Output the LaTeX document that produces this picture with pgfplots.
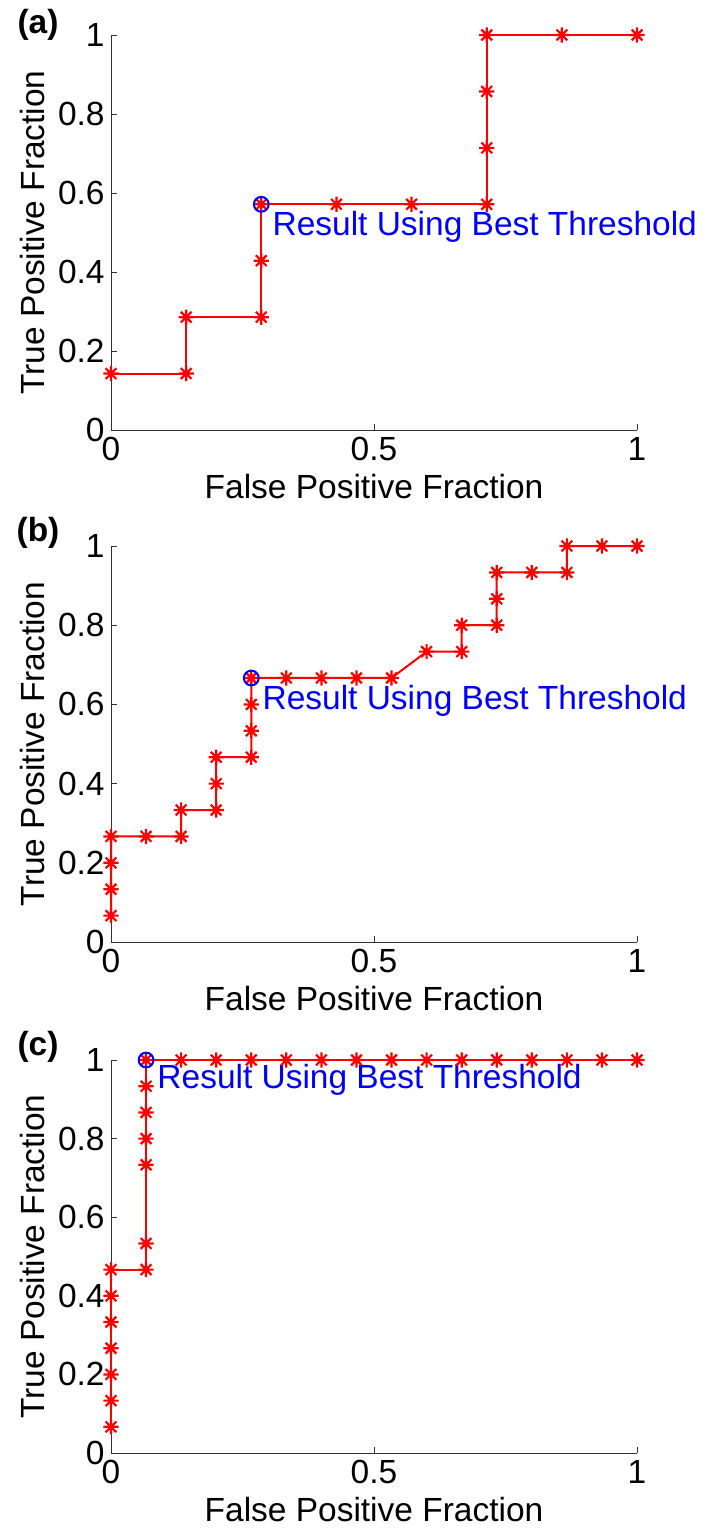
\documentclass[border=0pt]{standalone}
\usepackage{fontspec}
\setmainfont{Liberation Sans}
\setsansfont{Liberation Sans}
\usepackage{pgfplots}
\pgfplotsset{compat=1.18}

% MATLAB-style '*' marker (plus and cross together)
\pgfdeclareplotmark{mstar}{%
  \pgfpathmoveto{\pgfqpoint{0pt}{\pgfplotmarksize}}%
  \pgfpathlineto{\pgfqpoint{0pt}{-\pgfplotmarksize}}%
  \pgfpathmoveto{\pgfqpoint{\pgfplotmarksize}{0pt}}%
  \pgfpathlineto{\pgfqpoint{-\pgfplotmarksize}{0pt}}%
  \pgfpathmoveto{\pgfqpoint{.707\pgfplotmarksize}{.707\pgfplotmarksize}}%
  \pgfpathlineto{\pgfqpoint{-.707\pgfplotmarksize}{-.707\pgfplotmarksize}}%
  \pgfpathmoveto{\pgfqpoint{.707\pgfplotmarksize}{-.707\pgfplotmarksize}}%
  \pgfpathlineto{\pgfqpoint{-.707\pgfplotmarksize}{.707\pgfplotmarksize}}%
  \pgfusepathqstroke}

\newcommand{\figfont}{\fontsize{16.8}{19}\selectfont}

\pgfplotsset{
  roc/.style={
    scale only axis,
    width=263bp,
    anchor=south west,
    xmin=0, xmax=1, ymin=0, ymax=1,
    axis lines=left,
    axis line style={-, black!80},
    xtick={0,0.5,1},
    ytick={0,0.2,0.4,0.6,0.8,1},
    tick style={black!80},
    major tick length=3bp,
    tick align=inside,
    /pgf/number format/assume math mode=true,
    tick label style={font=\figfont},
    yticklabel style={inner xsep=3bp},
    label style={font=\figfont},
    xlabel={False Positive Fraction},
    ylabel={True Positive Fraction},
    clip=false,
  },
  rocline/.style={red, line width=1bp, mark=mstar, mark size=3.8bp,
    mark options={line width=1.1bp}},
  best/.style={blue, only marks, mark=o, mark size=3.7bp, line width=1bp},
}

\begin{document}
\begin{tikzpicture}
\useasboundingbox (0,0) rectangle (351.5bp,-764bp);

% (a)
\begin{axis}[roc, height=197.5bp, at={(55.5bp,-215bp)}]
  \addplot[rocline] coordinates {
    (0,0.1429) (0.1429,0.1429) (0.1429,0.2857) (0.2857,0.2857)
    (0.2857,0.4286) (0.2857,0.5714) (0.4286,0.5714) (0.5714,0.5714)
    (0.7143,0.5714) (0.7143,0.7143) (0.7143,0.8571) (0.7143,1)
    (0.8571,1) (1,1)
  };
  \addplot[best] coordinates {(0.2857,0.5714)};
  \node[anchor=west, inner sep=0, text=blue, font=\figfont, xshift=5.5bp, yshift=-11.5bp]
    at (axis cs:0.2857,0.5714) {Result Using Best Threshold};
  \node[font=\figfont\bfseries, yshift=5bp, xshift=-36.5bp] at (rel axis cs:0,1) {(a)};
\end{axis}

% (b)
\begin{axis}[roc, height=198bp, at={(55.5bp,-471bp)}]
  \addplot[rocline] coordinates {
    (0,0.0667) (0,0.1333) (0,0.2) (0,0.2667) (0.0667,0.2667) (0.1333,0.2667)
    (0.1333,0.3333) (0.2,0.3333) (0.2,0.4) (0.2,0.4667) (0.2667,0.4667)
    (0.2667,0.5333) (0.2667,0.6) (0.2667,0.6667) (0.3333,0.6667) (0.4,0.6667)
    (0.4667,0.6667) (0.5333,0.6667) (0.6,0.7333) (0.6667,0.7333) (0.6667,0.8)
    (0.7333,0.8) (0.7333,0.8667) (0.7333,0.9333) (0.8,0.9333) (0.8667,0.9333)
    (0.8667,1) (0.9333,1) (1,1)
  };
  \addplot[best] coordinates {(0.2667,0.6667)};
  \node[anchor=west, inner sep=0, text=blue, font=\figfont, xshift=5.5bp, yshift=-11.5bp]
    at (axis cs:0.2667,0.6667) {Result Using Best Threshold};
  \node[font=\figfont\bfseries, yshift=6.5bp, xshift=-36.5bp] at (rel axis cs:0,1) {(b)};
\end{axis}

% (c)
\begin{axis}[roc, height=196.5bp, at={(55.5bp,-726.5bp)}]
  \addplot[rocline] coordinates {
    (0,0.0667) (0,0.1333) (0,0.2) (0,0.2667) (0,0.3333) (0,0.4) (0,0.4667)
    (0.0667,0.4667) (0.0667,0.5333) (0.0667,0.7333) (0.0667,0.8) (0.0667,0.8667)
    (0.0667,0.9333) (0.0667,1) (0.1333,1) (0.2,1) (0.2667,1) (0.3333,1) (0.4,1)
    (0.4667,1) (0.5333,1) (0.6,1) (0.6667,1) (0.7333,1) (0.8,1) (0.8667,1)
    (0.9333,1) (1,1)
  };
  \addplot[best] coordinates {(0.0667,1)};
  \node[anchor=west, inner sep=0, text=blue, font=\figfont, xshift=5.5bp, yshift=-10bp]
    at (axis cs:0.0667,1) {Result Using Best Threshold};
  \node[font=\figfont\bfseries, yshift=6.5bp, xshift=-36.5bp] at (rel axis cs:0,1) {(c)};
\end{axis}
\end{tikzpicture}
\end{document}
